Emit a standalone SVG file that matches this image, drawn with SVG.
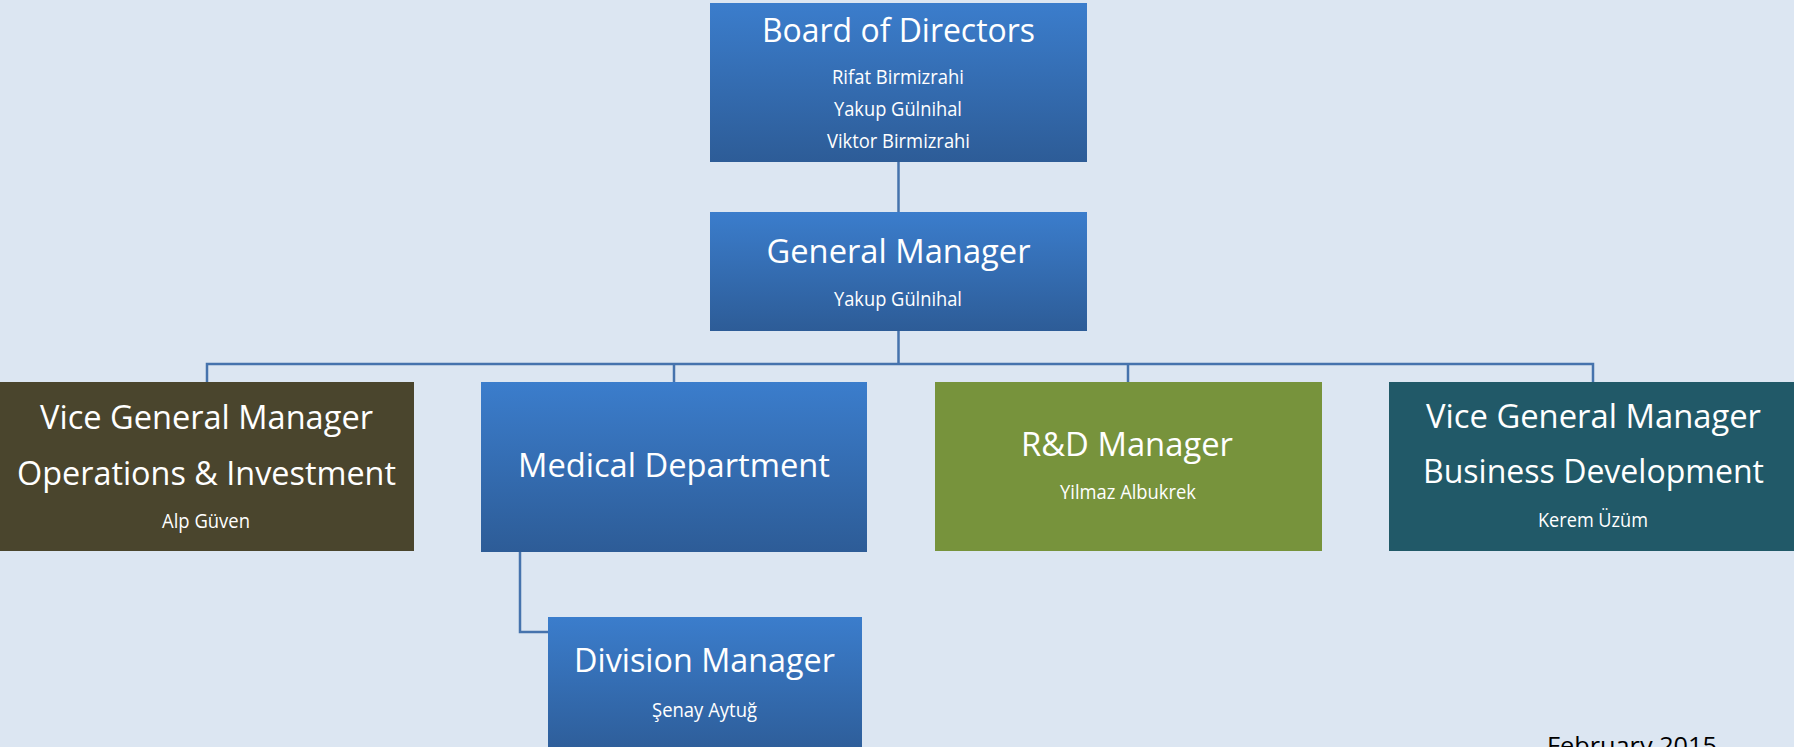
<svg xmlns="http://www.w3.org/2000/svg" width="1794" height="747" viewBox="0 0 1794 747">
<defs>
<linearGradient id="blue" x1="0" y1="0" x2="0" y2="1">
<stop offset="0" stop-color="#3b7dcc"/>
<stop offset="1" stop-color="#2d5c97"/>
</linearGradient>
<style>
.t{font-family:"Open Sans","Liberation Sans",sans-serif;fill:#ffffff;text-anchor:middle}
.h{font-size:33px}
.n{font-size:19.5px}
.c{fill:none;stroke:#4673ad;stroke-width:2.5}
</style>
</defs>
<rect x="0" y="0" width="1794" height="747" fill="#dce6f2"/>
<g id="connectors">
<path class="c" d="M898.5 162V212"/>
<path class="c" d="M898.5 331V364M207 382V364H1593V382M674 364V382M1128 364V382"/>
<path class="c" d="M520 552V632H548"/>
</g>
<g id="board">
<rect x="710" y="3" width="377" height="159" fill="url(#blue)"/>
<text class="t h" x="898.5" y="42" textLength="273" lengthAdjust="spacingAndGlyphs">Board of Directors</text>
<text class="t n" x="898" y="84" textLength="132" lengthAdjust="spacingAndGlyphs">Rifat Birmizrahi</text>
<text class="t n" x="898" y="116" textLength="128" lengthAdjust="spacingAndGlyphs">Yakup Gülnihal</text>
<text class="t n" x="898.5" y="148" textLength="143" lengthAdjust="spacingAndGlyphs">Viktor Birmizrahi</text>
</g>
<g id="gm">
<rect x="710" y="212" width="377" height="119" fill="url(#blue)"/>
<text class="t h" x="898.5" y="263" textLength="264" lengthAdjust="spacingAndGlyphs">General Manager</text>
<text class="t n" x="898" y="306" textLength="128" lengthAdjust="spacingAndGlyphs">Yakup Gülnihal</text>
</g>
<g id="vgm-ops">
<rect x="0" y="382" width="414" height="169" fill="#4a452d"/>
<text class="t h" x="206.5" y="429" textLength="333" lengthAdjust="spacingAndGlyphs">Vice General Manager</text>
<text class="t h" x="206.5" y="485" textLength="379" lengthAdjust="spacingAndGlyphs">Operations &amp; Investment</text>
<text class="t n" x="206" y="528" textLength="88" lengthAdjust="spacingAndGlyphs">Alp Güven</text>
</g>
<g id="medical">
<rect x="481" y="382" width="386" height="170" fill="url(#blue)"/>
<text class="t h" x="674" y="477" textLength="312" lengthAdjust="spacingAndGlyphs">Medical Department</text>
</g>
<g id="rnd">
<rect x="935" y="382" width="387" height="169" fill="#77933c"/>
<text class="t h" x="1127" y="456" textLength="212" lengthAdjust="spacingAndGlyphs">R&amp;D Manager</text>
<text class="t n" x="1128" y="499" textLength="136" lengthAdjust="spacingAndGlyphs">Yilmaz Albukrek</text>
</g>
<g id="vgm-bd">
<rect x="1389" y="382" width="410" height="169" fill="#215968"/>
<text class="t h" x="1593.5" y="428" textLength="335" lengthAdjust="spacingAndGlyphs">Vice General Manager</text>
<text class="t h" x="1593.5" y="483" textLength="341" lengthAdjust="spacingAndGlyphs">Business Development</text>
<text class="t n" x="1593" y="527" textLength="110" lengthAdjust="spacingAndGlyphs">Kerem Üzüm</text>
</g>
<g id="division">
<rect x="548" y="617" width="314" height="140" fill="url(#blue)"/>
<text class="t h" x="704.5" y="672" textLength="261" lengthAdjust="spacingAndGlyphs">Division Manager</text>
<text class="t n" x="704.5" y="717" textLength="105" lengthAdjust="spacingAndGlyphs">Şenay Aytuğ</text>
</g>
<text x="1632" y="754" font-family="'Open Sans','Liberation Sans',sans-serif" font-size="24" fill="#000000" text-anchor="middle" textLength="170" lengthAdjust="spacingAndGlyphs">February 2015</text>
</svg>
